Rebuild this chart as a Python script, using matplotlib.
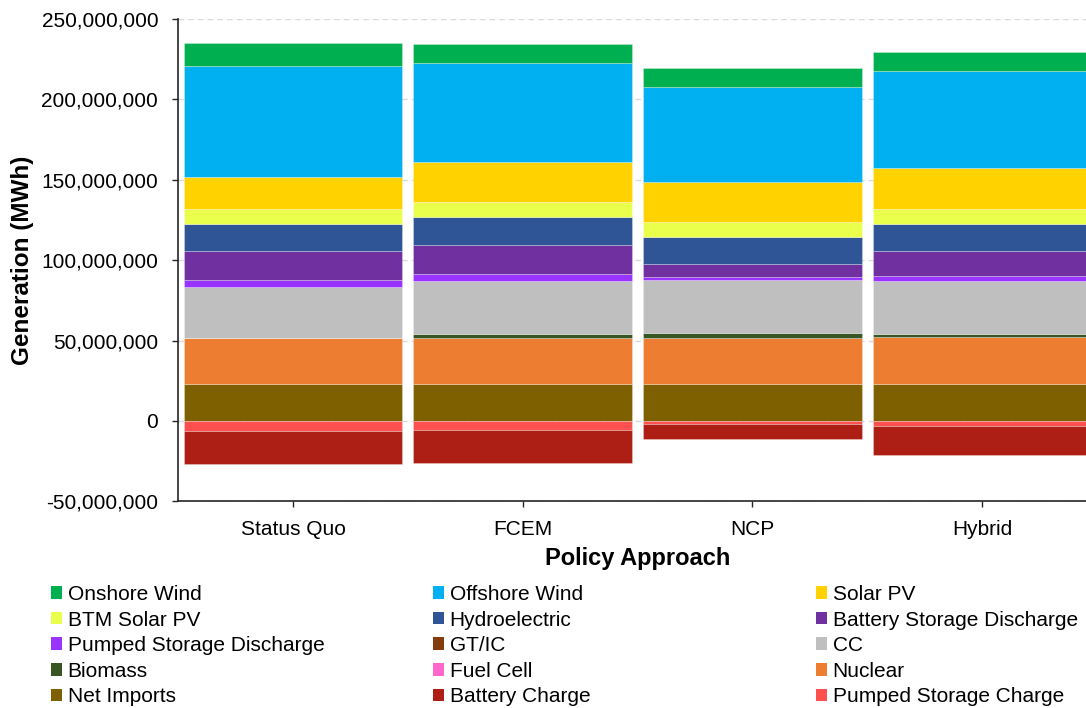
import matplotlib
matplotlib.use("Agg")
import matplotlib.pyplot as plt
from matplotlib.patches import Patch
from matplotlib.ticker import FuncFormatter, MultipleLocator
import numpy as np

plt.rcParams['font.family'] = ['Liberation Sans', 'DejaVu Sans']

categories = ['Status Quo', 'FCEM', 'NCP', 'Hybrid']

# Generation (MWh) per source, listed in stacking order (bottom to top)
net_imports = [23.2e6, 23.2e6, 23.2e6, 23.2e6]
nuclear = [28.2e6, 28.4e6, 28.6e6, 29.0e6]
fuel_cell = [0.0, 0.0, 0.0, 0.0]
biomass = [0.2e6, 2.5e6, 2.9e6, 1.9e6]
cc = [31.4e6, 33.1e6, 33.1e6, 32.9e6]
gt_ic = [0.1e6, 0.1e6, 0.1e6, 0.1e6]
pumped_discharge = [4.6e6, 4.1e6, 1.5e6, 2.9e6]
battery_discharge = [17.8e6, 18.3e6, 8.0e6, 15.5e6]
hydroelectric = [16.8e6, 17.0e6, 17.0e6, 16.8e6]
btm_solar = [9.5e6, 9.5e6, 9.6e6, 9.5e6]
solar_pv = [19.8e6, 25.1e6, 24.6e6, 25.5e6]
offshore_wind = [69.0e6, 61.1e6, 58.9e6, 60.4e6]
onshore_wind = [14.3e6, 12.0e6, 12.0e6, 11.8e6]
# Negative (charging) series, stacked downward from zero
pumped_charge = [-6.2e6, -5.4e6, -1.9e6, -3.3e6]
battery_charge = [-20.3e6, -20.9e6, -9.5e6, -18.0e6]

positive_series = [
    ('Net Imports', net_imports, '#7F6000'),
    ('Nuclear', nuclear, '#ED7D31'),
    ('Fuel Cell', fuel_cell, '#FF66CC'),
    ('Biomass', biomass, '#375623'),
    ('CC', cc, '#BFBFBF'),
    ('GT/IC', gt_ic, '#843C0C'),
    ('Pumped Storage Discharge', pumped_discharge, '#9933FF'),
    ('Battery Storage Discharge', battery_discharge, '#7030A0'),
    ('Hydroelectric', hydroelectric, '#2F5597'),
    ('BTM Solar PV', btm_solar, '#E9FF4B'),
    ('Solar PV', solar_pv, '#FFD200'),
    ('Offshore Wind', offshore_wind, '#00B0F0'),
    ('Onshore Wind', onshore_wind, '#00B050'),
]
negative_series = [
    ('Pumped Storage Charge', pumped_charge, '#FF5050'),
    ('Battery Charge', battery_charge, '#AD1F14'),
]

W, H = 1086, 708
fig = plt.figure(figsize=(W / 100, H / 100), dpi=100)
ax_left, ax_right, ax_bottom, ax_top = 178.3, 1097.0, 501.3, 19.0
ax = fig.add_axes([ax_left / W, 1 - ax_bottom / H,
                   (ax_right - ax_left) / W, (ax_bottom - ax_top) / H])

x = np.arange(len(categories))
bw = 0.952
edge = (1, 1, 1, 0.28)

bottom = np.zeros(len(categories))
colors = {}
for name, vals, col in positive_series:
    v = np.array(vals, dtype=float)
    ax.bar(x, v, bw, bottom=bottom, color=col, edgecolor=edge, linewidth=0.7, zorder=3)
    bottom += v
    colors[name] = col

nbottom = np.zeros(len(categories))
for name, vals, col in negative_series:
    v = np.array(vals, dtype=float)
    ax.bar(x, v, bw, bottom=nbottom, color=col, edgecolor=edge, linewidth=0.7, zorder=3)
    nbottom += v
    colors[name] = col

ax.set_xlim(-0.5, 3.5)
ax.set_ylim(-50e6, 250e6)
ax.yaxis.set_major_locator(MultipleLocator(50e6))
ax.yaxis.set_major_formatter(FuncFormatter(lambda v, p: f'{v:,.0f}'))
ax.set_xticks(x)
ax.set_xticklabels(categories)
ax.grid(axis='y', color='#D9D9D9', linestyle=(0, (4, 3)), linewidth=1.0, zorder=0)
ax.set_axisbelow(True)

for s in ['top', 'right']:
    ax.spines[s].set_visible(False)
for s in ['left', 'bottom']:
    ax.spines[s].set_color('#262626')
    ax.spines[s].set_linewidth(1.2)
ax.tick_params(axis='y', length=4.5, width=1.0, pad=10, labelsize=15, color='#262626')
ax.tick_params(axis='x', length=4.5, width=1.0, pad=9, labelsize=15, color='#262626')

ax.set_xlabel('Policy Approach', fontsize=17, fontweight='bold', va='center')
ax.xaxis.set_label_coords(0.5, (ax_bottom - 558) / (ax_bottom - ax_top))
ax.set_ylabel('Generation (MWh)', fontsize=17.5, fontweight='bold', va='center')
ax.yaxis.set_label_coords((22.5 - ax_left) / (ax_right - ax_left), 0.5)

legend_order = [
    ['Onshore Wind', 'BTM Solar PV', 'Pumped Storage Discharge', 'Biomass', 'Net Imports'],
    ['Offshore Wind', 'Hydroelectric', 'GT/IC', 'Fuel Cell', 'Battery Charge'],
    ['Solar PV', 'Battery Storage Discharge', 'CC', 'Nuclear', 'Pumped Storage Charge'],
]
col_x = [51, 433, 816]
for cx, names in zip(col_x, legend_order):
    handles = [Patch(facecolor=colors[n], edgecolor='none') for n in names]
    fig.legend(handles, names, loc='upper left',
               bbox_to_anchor=(cx / W, 1 - 585 / H),
               frameon=False, fontsize=15, handlelength=0.55, handleheight=0.55,
               handletextpad=0.25, labelspacing=0.315, borderpad=0, borderaxespad=0)

fig.savefig('out.png', dpi=100)
